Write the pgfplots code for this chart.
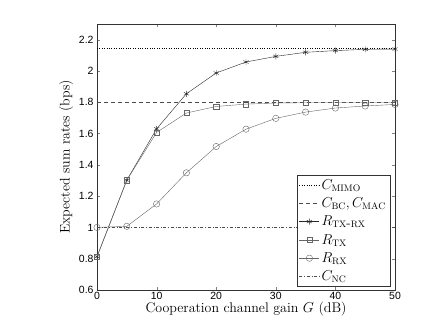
\documentclass[border=0pt]{standalone}
\usepackage{fontspec}
\usepackage{pgfplots}
\pgfplotsset{compat=1.18}
\newfontfamily\ticksf{Liberation Sans}
\begin{document}
\begin{tikzpicture}[x=1bp,y=1bp]
\path[use as bounding box] (0,0) rectangle (436,327);
\begin{axis}[
  at={(97bp,37bp)}, anchor=south west,
  scale only axis, width=298bp, height=266bp,
  xmin=0, xmax=50, ymin=0.6, ymax=2.3,
  xtick={0,10,...,50},
  ytick={0.6,0.8,1,1.2,1.4,1.6,1.8,2,2.2},
  yticklabels={0.6,0.8,1,1.2,1.4,1.6,1.8,2,2.2},
  tick align=inside, tick pos=both,
  major tick length=3bp,
  /pgf/number format/assume math mode=true,
  ticklabel style={font=\ticksf\fontsize{10.5}{12}\selectfont},
  xticklabel style={yshift=1bp},
  xlabel={Cooperation channel gain $G$ (dB)},
  ylabel={Expected sum rates (bps)},
  label style={font=\fontsize{14}{16}\selectfont},
  xlabel style={yshift=5bp},
  ylabel style={yshift=-1bp},
  axis line style={black!80},
  legend cell align=left,
  legend style={at={(0.985,0.012)}, anchor=south east, font=\fontsize{13.5}{15}\selectfont,
    draw=black!80, row sep=3bp, inner sep=2.5bp},
  legend image code/.code={\draw[#1] (0cm,0cm) -- (0.7cm,0cm);
    \draw[#1, only marks] plot coordinates {(0.35cm,0cm)};},
]
\addplot[black, dotted, thin] coordinates {(0,2.145) (50,2.145)};
\addlegendentry{$C_{\mathrm{MIMO}}$}
\addplot[black!70, dash pattern=on 4bp off 3bp, thin] coordinates {(0,1.8) (50,1.8)};
\addlegendentry{$C_{\mathrm{BC}}, C_{\mathrm{MAC}}$}
\addplot[black!85, thin, mark=asterisk, mark size=3bp] coordinates {
  (0,0.813) (5,1.302) (10,1.630) (15,1.854) (20,1.987) (25,2.057)
  (30,2.093) (35,2.119) (40,2.130) (45,2.138) (50,2.140)};
\addlegendentry{$R_{\mathrm{TX\mbox{-}RX}}$}
\addplot[black!60, thin, mark=square, mark size=2.6bp, mark options={solid}] coordinates {
  (0,0.813) (5,1.302) (10,1.607) (15,1.731) (20,1.773) (25,1.788)
  (30,1.795) (35,1.797) (40,1.797) (45,1.797) (50,1.797)};
\addlegendentry{$R_{\mathrm{TX}}$}
\addplot[black!60, thin, mark=o, mark size=3.2bp] coordinates {
  (0,1.0) (5,1.007) (10,1.150) (15,1.349) (20,1.517) (25,1.628)
  (30,1.697) (35,1.737) (40,1.763) (45,1.776) (50,1.786)};
\addlegendentry{$R_{\mathrm{RX}}$}
\addplot[black!70, thin, dash dot] coordinates {(0,1.0) (50,1.0)};
\addlegendentry{$C_{\mathrm{NC}}$}
\end{axis}
\end{tikzpicture}
\end{document}
